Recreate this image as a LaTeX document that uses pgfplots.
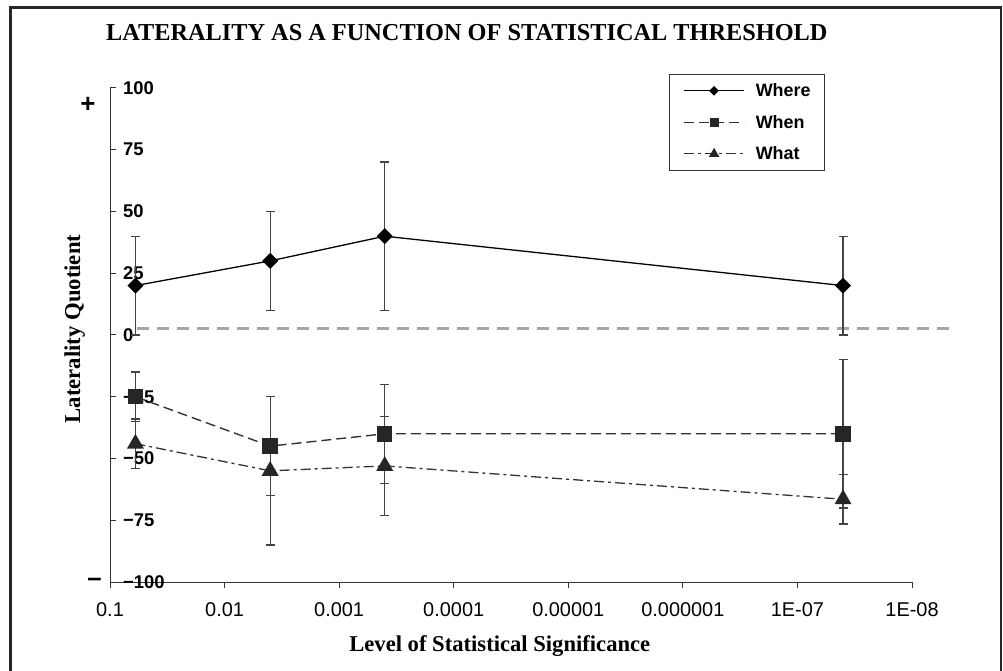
\documentclass[border=0pt]{standalone}
\usepackage{fontspec}
\setmainfont{Liberation Serif}
\setsansfont{Liberation Sans}
\usepackage{pgfplots}
\pgfplotsset{compat=1.18}
\definecolor{axisInk}{HTML}{333333}
\definecolor{barInk}{HTML}{444444}
\definecolor{zeroGray}{HTML}{A6A6A6}

\begin{document}
\begin{tikzpicture}
\useasboundingbox (-110bp,-89bp) rectangle (893bp,582bp);
\draw[line width=2.5bp, black!85] (-99.5bp,574.5bp) rectangle (891bp,-130bp);
\begin{axis}[
  scale only axis,
  width=802bp, height=494bp,
  xmode=log, x dir=reverse,
  xmin=1e-8, xmax=0.1,
  ymin=-100, ymax=100,
  xtick={1e-1,1e-2,1e-3,1e-4,1e-5,1e-6,1e-7,1e-8},
  xticklabels={0.1,0.01,0.001,0.0001,0.00001,0.000001,1E-07,1E-08},
  ytick={-100,-75,-50,-25,0,25,50,75,100},
  yticklabels={−100,−75,−50,−25,0,25,50,75,100},
  axis lines*=left,
  axis line style={draw=axisInk, line width=1bp},
  tick style={draw=axisInk, line width=1bp},
  minor tick style={draw=none},
  tick align=inside,
  major tick length=6bp,
  x tick style={yshift=-6bp},
  xticklabel style={font=\sffamily\fontsize{20}{20}\selectfont, anchor=north, inner sep=0pt, yshift=-20bp},
  yticklabel style={font=\sffamily\bfseries\fontsize{18.5}{18.5}\selectfont, anchor=west, inner sep=0pt, xshift=13bp},
  title={LATERALITY AS A FUNCTION OF STATISTICAL THRESHOLD},
  every axis title/.style={at={(0.445,1.097)}, anchor=base, font=\bfseries\fontsize{24.4}{24.4}\selectfont},
  xlabel={Level of Statistical Significance},
  every axis x label/.style={at={(0.486,-0.1417)}, anchor=base, font=\bfseries\fontsize{22.7}{22.7}\selectfont},
  ylabel={Laterality Quotient},
  every axis y label/.style={at={(-0.0374,0.512)}, rotate=90, anchor=base, font=\bfseries\fontsize{22.8}{22.8}\selectfont},
  legend style={at={(0.697,1.028)}, anchor=north west, draw=axisInk, line width=0.8bp,
    font=\sffamily\bfseries\fontsize{18}{18}\selectfont,
    nodes={inner sep=0pt}, row sep=17bp, inner xsep=14bp, inner ysep=9bp,
    /tikz/every odd column/.style={column sep=11bp}},
  legend cell align=left,
  legend image code/.code={
    \draw[mark repeat=2, mark phase=2, #1, every mark/.append style={scale=0.55}]
      plot coordinates {(0bp,0bp) (30bp,0bp) (60bp,0bp)};
  },
  error bars/error bar style={solid, line width=1.2bp, draw=barInk},
  error bars/error mark options={solid, rotate=90, mark size=4.5bp, line width=1.2bp, draw=barInk},
  clip=false
]
% zero reference line
\addplot[forget plot, zeroGray, line width=3bp, dash pattern=on 12bp off 8bp]
  coordinates {(0.058,2.5) (4.8e-9,2.5)};

\addplot[black, line width=1.3bp, mark=square*,
  mark options={solid, rotate=45, fill=black, mark size=5bp},
  error bars/.cd, y dir=both, y explicit]
  coordinates {
  (0.06,20) +- (0,20)
  (0.004,30) +- (0,20)
  (0.0004,40) +- (0,30)
  (4e-8,20) +- (0,20)
};
\addlegendentry{Where}

\addplot[axisInk, line width=1.4bp, dash pattern=on 10bp off 5bp, mark=square*,
  mark options={solid, fill=black!85, draw=black!85, mark size=7bp},
  error bars/.cd, y dir=both, y explicit]
  coordinates {
  (0.06,-25) +- (0,10)
  (0.004,-45) +- (0,20)
  (0.0004,-40) +- (0,20)
  (4e-8,-40) +- (0,30)
};
\addlegendentry{When}

\addplot[axisInk, line width=1.3bp, dash pattern=on 10bp off 4bp on 3bp off 4bp, mark=triangle*,
  mark options={solid, fill=black!85, draw=black!85, mark size=8.5bp},
  error bars/.cd, y dir=both, y explicit]
  coordinates {
  (0.06,-44) +- (0,10)
  (0.004,-55) +- (0,30)
  (0.0004,-53) +- (0,20)
  (4e-8,-66.5) +- (0,10)
};
\addlegendentry{What}
\end{axis}
\node[font=\sffamily\bfseries\fontsize{26}{26}\selectfont] at (-22bp,477bp) {+};
\node[font=\sffamily\bfseries\fontsize{26}{26}\selectfont] at (-15.5bp,0bp) {–};
\end{tikzpicture}
\end{document}
